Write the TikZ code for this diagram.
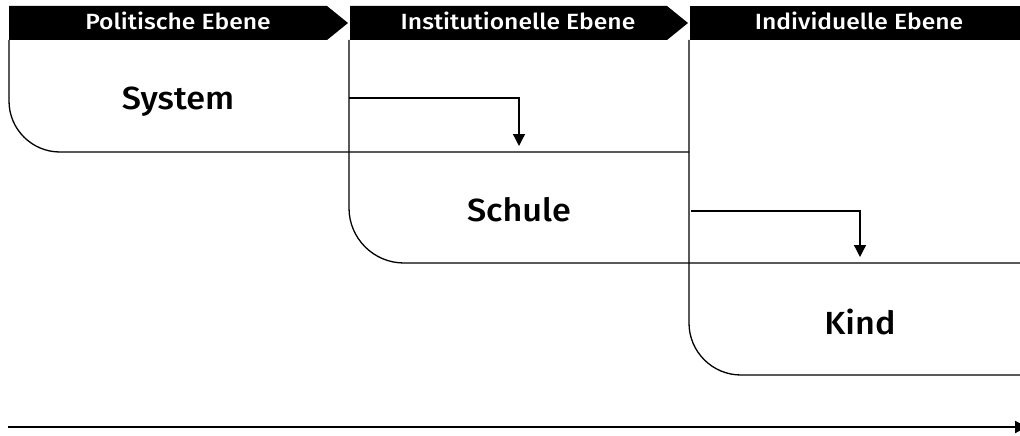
\documentclass[tikz,border=0pt]{standalone}
\usepackage{fontspec}
\setmainfont{Fira Sans}[BoldFont={Fira Sans Medium}]
\newfontfamily\hdrfont{Fira Sans Medium}[FakeStretch=1.12]
\newfontfamily\lvlfont{Fira Sans Medium}[FakeStretch=1.07]
\usetikzlibrary{arrows.meta}
\tikzset{
  frame/.style={draw=black, line width=1.3pt},
  hdr/.style={fill=black},
  hdrtext/.style={text=white, font=\hdrfont\fontsize{22}{26}\selectfont, anchor=base, inner sep=0pt},
  lvltext/.style={text=black, font=\lvlfont\fontsize{32}{38}\selectfont, anchor=base, inner sep=0pt},
  flow/.style={draw=black, line width=1.3pt, -{Triangle[length=12pt,width=12pt]}},
  timeline/.style={draw=black, line width=2pt, -{Triangle[length=12pt,width=12pt]}}
}
\begin{document}
\begin{tikzpicture}[x=1pt,y=-1pt]
\useasboundingbox (0,0) rectangle (1020,436);
\clip (0,0) rectangle (1020,436);
% panels
\draw[frame, rounded corners=51pt] (9,40) |- (689,152);
\draw[frame, rounded corners=55pt] (349,40) |- (1040,263);
\draw[frame, rounded corners=52pt] (689,40) |- (1040,375);
% headers
\fill[hdr] (9,6) -- (327,6) -- (348,23) -- (327,40) -- (9,40) -- cycle;
\fill[hdr] (350,6) -- (667,6) -- (688,23) -- (667,40) -- (350,40) -- cycle;
\fill[hdr] (690,6) -- (1040,6) -- (1040,40) -- (690,40) -- cycle;
\node[hdrtext] (h1) at (178,30) {Politische Ebene};
\node[hdrtext] (h2) at (518,30) {Institutionelle Ebene};
\node[hdrtext] (h3) at (859,30) {Individuelle Ebene};
% level labels
\node[lvltext] (sys) at (178,110) {System};
\node[lvltext] (sch) at (519,221) {Schule};
\node[lvltext] (kid) at (860,334) {Kind};
% flow arrows
\coordinate (a1s) at (349,98);
\coordinate (a1e) at (519,146);
\coordinate (a2s) at (691,211);
\coordinate (a2e) at (860,257);
\draw[flow] (a1s) -| (a1e);
\draw[flow] (a2s) -| (a2e);
% timeline
\coordinate (ts) at (8,427);
\coordinate (te) at (1027,427);
\draw[timeline] (ts) -- (te);
\end{tikzpicture}
\end{document}
